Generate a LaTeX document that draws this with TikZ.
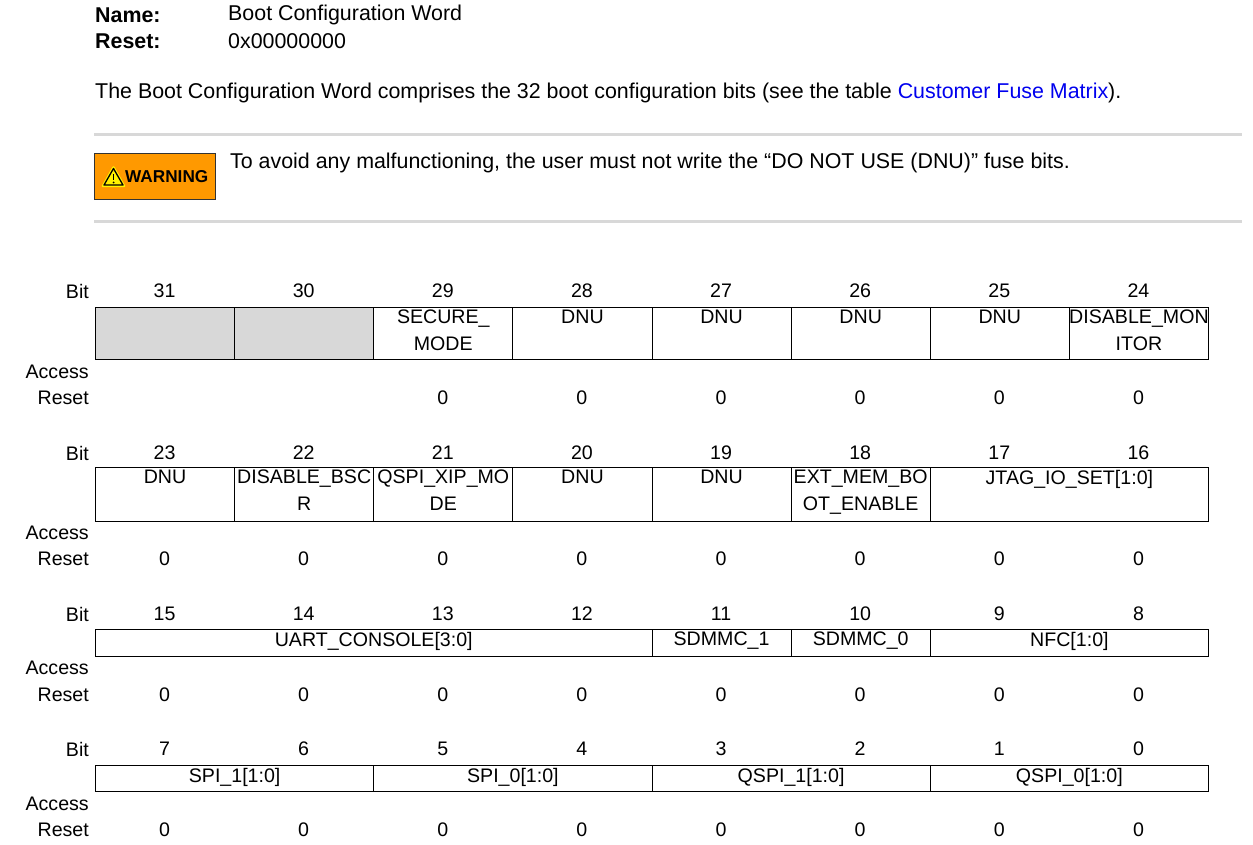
\documentclass[tikz,border=0pt]{standalone}
\usepackage{fontspec}
\setmainfont{Liberation Sans}
\definecolor{rule}{RGB}{216,216,216}
\definecolor{warnor}{RGB}{255,153,0}
\definecolor{cellgray}{RGB}{216,216,216}
\definecolor{linkblue}{RGB}{0,0,238}
\begin{document}
\begin{tikzpicture}[x=1pt,y=-1pt,font=\fontsize{21.4}{24}\selectfont,
  cell/.style={draw=black,line width=1pt,anchor=north west,inner sep=0pt},
  ctext/.style={anchor=north,align=center,inner sep=0pt},
  lab/.style={anchor=east,inner sep=0pt,font=\fontsize{19.6}{24}\selectfont},
  num/.style={inner sep=0pt,font=\fontsize{19.6}{24}\selectfont},
  txt/.style={anchor=west,inner sep=0pt}]
\useasboundingbox (0,0) rectangle (1253,845);
% header
\node[txt,font=\fontsize{21.4}{24}\selectfont\bfseries] (n1) at (95,15) {Name:};
\node[txt] (n2) at (228,15) {Boot Configuration Word};
\node[txt,font=\fontsize{21.4}{24}\selectfont\bfseries] (r1) at (95,41) {Reset:};
\node[txt] (r2) at (228,41) {0x00000000};
\node[txt] (para) at (95,93) {The Boot Configuration Word comprises the 32 boot configuration bits (see the table \textcolor{linkblue}{Customer Fuse Matrix}).};
\draw[rule,line width=3pt] (94,135) -- (1242,135);
\draw[rule,line width=3pt] (94,222) -- (1242,222);
\node[draw=black!80,fill=warnor,line width=1pt,minimum width=121,minimum height=46,anchor=north west,inner sep=0pt] (warn) at (94,153) {};
\node[inner sep=0pt,anchor=west,font=\fontsize{17.2}{20}\selectfont\bfseries] (wt) at (125,177) {WARNING};
\draw[draw=yellow,line width=2.5pt,line join=round,fill=yellow] (103,186) -- (124,186) -- (113.5,167.5) -- cycle;
\draw[black,line width=1.3pt,line join=round] (104,185) -- (123,185) -- (113.5,168.5) -- cycle;
\draw[black,line width=1.8pt] (113.5,174) -- (113.5,180);
\fill[black] (113.5,182.5) circle (1pt);
\node[txt] (wtext) at (230,163) {To avoid any malfunctioning, the user must not write the “DO NOT USE (DNU)” fuse bits.};
% rows
\foreach \r/\yb/\ya/\yr in {1/291/372/398, 2/453/533/559, 3/614/668/695, 4/749/804/830}{
  \node[lab] (bit\r) at (89,\yb) {Bit};
  \node[lab] (acc\r) at (89,\ya) {Access};
  \node[lab] (res\r) at (89,\yr) {Reset};
  \foreach \c in {0,...,7}{
    \pgfmathtruncatemacro{\bn}{32-8*\r+7-\c}
    \node[num] (b\bn) at ({95+139.125*(\c+0.5)},\yb) {\bn};
  }
}
\foreach \c in {2,...,7}{\node[num] (rv1\c) at ({95+139.125*(\c+0.5)},398) {0};}
\foreach \r/\yr in {2/559,3/695,4/830}{\foreach \c in {0,...,7}{\node[num] (rv\r\c) at ({95+139.125*(\c+0.5)},\yr) {0};}}
\foreach \nm/\c/\s/\yt/\h/\f/\t in {
  a1/0/1/307/52/cellgray/{}, a2/1/1/307/52/cellgray/{}, a3/2/1/307/52/white/{SECURE\_\\MODE},
  a4/3/1/307/52/white/DNU, a5/4/1/307/52/white/DNU, a6/5/1/307/52/white/DNU, a7/6/1/307/52/white/DNU,
  a8/7/1/307/52/white/{DISABLE\_MON\\ITOR},
  c1/0/1/467/54/white/DNU, c2/1/1/467/54/white/{DISABLE\_BSC\\R}, c3/2/1/467/54/white/{QSPI\_XIP\_MO\\DE},
  c4/3/1/467/54/white/DNU, c5/4/1/467/54/white/DNU, c6/5/1/467/54/white/{EXT\_MEM\_BO\\OT\_ENABLE},
  c7/6/2/467/54/white/{JTAG\_IO\_SET[1:0]},
  d1/0/4/629/27/white/{UART\_CONSOLE[3:0]}, d2/4/1/629/27/white/SDMMC\_1, d3/5/1/629/27/white/SDMMC\_0,
  d4/6/2/629/27/white/{NFC[1:0]},
  e1/0/2/765/26/white/{SPI\_1[1:0]}, e2/2/2/765/26/white/{SPI\_0[1:0]}, e3/4/2/765/26/white/{QSPI\_1[1:0]},
  e4/6/2/765/26/white/{QSPI\_0[1:0]}}{
  \node[cell,fill=\f,minimum width={139.125*\s},minimum height=\h] (\nm) at ({95+139.125*\c},\yt) {};
  \node[ctext,font=\fontsize{19.6}{27}\selectfont] (\nm t) at ([yshift=-3pt]\nm.north) {\t};
}
\end{tikzpicture}
\end{document}
